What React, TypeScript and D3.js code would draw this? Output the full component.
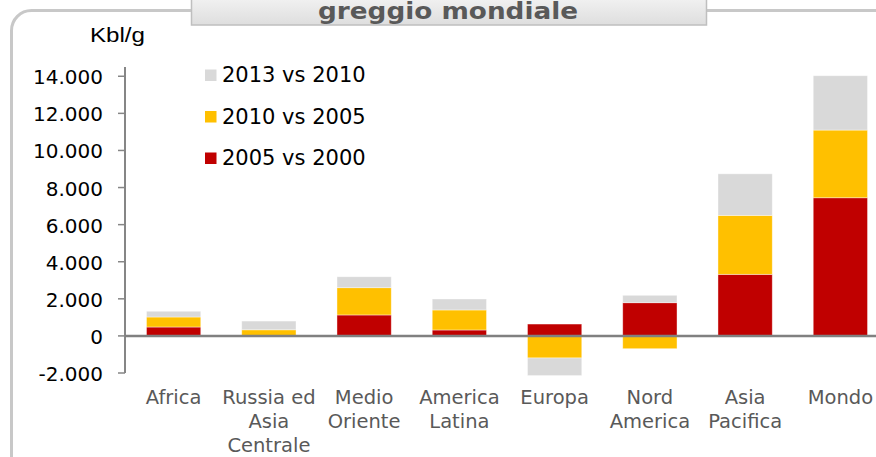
import React from 'react';
import * as d3 from 'd3';

const categories = ['Africa', 'Russia ed Asia Centrale', 'Medio Oriente', 'America Latina', 'Europa', 'Nord America', 'Asia Pacifica', 'Mondo'];
const categoryLines = [['Africa'], ['Russia ed', 'Asia', 'Centrale'], ['Medio', 'Oriente'], ['America', 'Latina'], ['Europa'], ['Nord', 'America'], ['Asia', 'Pacifica'], ['Mondo']];
const series2005vs2000 = [480, 0, 1130, 320, 640, 1790, 3320, 7450];
const series2010vs2005 = [540, 330, 1470, 1080, -1190, -690, 3180, 3650];
const series2013vs2010 = [310, 470, 590, 590, -950, 400, 2240, 2930];
const seriesKeys = ['2005 vs 2000', '2010 vs 2005', '2013 vs 2010'];
const seriesColors = ['#C00000', '#FFC000', '#D9D9D9'];
const yTicks = [-2000, 0, 2000, 4000, 6000, 8000, 10000, 12000, 14000];

const W = 876;
const H = 457;

export default function App() {
  const rows = categories.map((c, i) => ({
    cat: c,
    '2005 vs 2000': series2005vs2000[i],
    '2010 vs 2005': series2010vs2005[i],
    '2013 vs 2010': series2013vs2010[i],
  }));
  const stacked = d3.stack<any>().keys(seriesKeys).offset(d3.stackOffsetDiverging)(rows);

  const x = d3.scaleBand().domain(categories).range([126, 888]).paddingInner(0.43).paddingOuter(0.215);
  const y = d3.scaleLinear().domain([-2000, 14500]).range([373, 67]);
  // Italian style thousands separator, plain hyphen for negatives
  const fmt = (v: number) => (v < 0 ? '-' : '') + d3.format(',')(Math.abs(v)).replace(/,/g, '.');

  // legend order: top = 2013 vs 2010
  const legendOrder = [2, 1, 0];

  return (
    <svg width={W} height={H} style={{ position: 'absolute', left: 0, top: 0, background: '#fff' }}>
      <defs>
        <linearGradient id="titleGrad" x1="0" y1="0" x2="0" y2="1">
          <stop offset="0" stopColor="#f4f4f4" />
          <stop offset="1" stopColor="#dedede" />
        </linearGradient>
      </defs>

      {/* outer frame */}
      <rect x={11.5} y={10.5} width={W + 40} height={H + 40} rx={20} fill="none" stroke="#c8c8c8" strokeWidth={3} />

      {/* title box */}
      <rect x={191.5} y={-6} width={515} height={31} fill="url(#titleGrad)" stroke="#bfbfbf" strokeWidth={1.5} />
      <text x={318} y={19} textLength={260} lengthAdjust="spacingAndGlyphs" fontFamily="DejaVu Sans" fontWeight="bold" fontSize={23} fill="#595959">
        greggio mondiale
      </text>

      {/* unit */}
      <text x={90} y={42} textLength={55} lengthAdjust="spacingAndGlyphs" fontFamily="Liberation Sans" fontSize={21} fill="#000">
        Kbl/g
      </text>

      {/* bars */}
      {stacked.map((s, si) => (
        <g key={s.key}>
          {s.map((d, i) => {
            const y0 = y(d[0]);
            const y1 = y(d[1]);
            const h = Math.abs(y0 - y1);
            if (h < 0.01) return null;
            return (
              <rect key={i} x={x(categories[i])} y={Math.min(y0, y1)} width={x.bandwidth()} height={h}
                fill={seriesColors[si]} stroke="rgba(255,255,255,0.5)" strokeWidth={0.8} />
            );
          })}
        </g>
      ))}

      {/* y axis */}
      <line x1={125} x2={125} y1={y(14500)} y2={y(-2000)} stroke="#868686" strokeWidth={2} />
      {yTicks.map((t) => (
        <g key={t}>
          <line x1={118} x2={125} y1={y(t)} y2={y(t)} stroke="#868686" strokeWidth={1.5} />
          <text x={103} y={y(t) + 8} textAnchor="end" fontFamily="DejaVu Sans" fontSize={20} fill="#000">{fmt(t)}</text>
        </g>
      ))}
      {/* zero line */}
      <line x1={125} x2={W} y1={y(0)} y2={y(0)} stroke="#808080" strokeWidth={2.5} />

      {/* category labels */}
      {categoryLines.map((lines, i) => (
        <text key={i} textAnchor="middle" fontFamily="DejaVu Sans" fontSize={19.5} fill="#595959">
          {lines.map((l, j) => (
            <tspan key={j} x={(x(categories[i]) as number) + x.bandwidth() / 2} y={404 + j * 24}>{l}</tspan>
          ))}
        </text>
      ))}

      {/* legend */}
      {legendOrder.map((si, k) => (
        <g key={si}>
          <rect x={205} y={69.5 + k * 41.5} width={11.5} height={11.5} fill={seriesColors[si]} />
          <text x={222} y={82 + k * 41.5} fontFamily="DejaVu Sans" fontSize={21} fill="#000">{seriesKeys[si]}</text>
        </g>
      ))}
    </svg>
  );
}
